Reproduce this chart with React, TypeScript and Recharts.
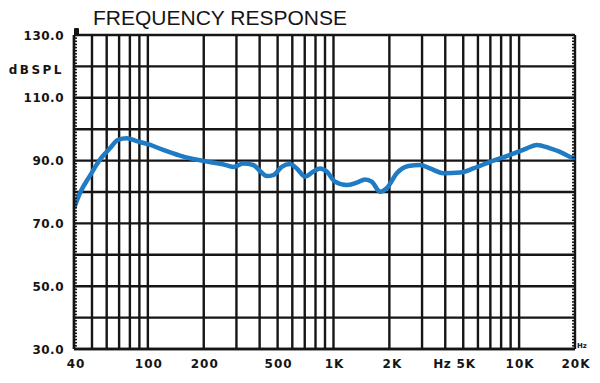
import React from "react";
import { LineChart, Line, XAxis, YAxis, CartesianGrid, ReferenceLine } from "recharts";

const freqs = [40, 43, 49, 55, 62.5, 69, 77, 87, 103, 121, 149, 199, 255, 289, 327, 370, 400, 437, 474, 526, 583, 634, 703, 779, 846, 920, 1019, 1178, 1334, 1479, 1607, 1782, 1936, 2193, 2530, 2926, 3311, 3908, 4808, 5666, 6970, 8930, 10990, 12450, 14690, 16600, 18800, 20000];
const spl = [74.8, 79.6, 85.4, 90.2, 93.9, 96.6, 97.1, 96.2, 95, 93.4, 91.6, 89.9, 88.8, 88, 89.1, 88.6, 86.8, 85.1, 85.4, 88, 88.9, 87.5, 84.9, 86.5, 87.5, 86.5, 83.3, 82.2, 83, 84, 83.3, 80.1, 81.2, 86, 88.3, 88.6, 87.5, 86, 86.2, 87.5, 89.6, 91.8, 93.9, 95, 93.9, 92.8, 91.2, 90.8];

const xGridTicks = [40, 50, 60, 70, 80, 90, 100, 200, 300, 400, 500, 600, 700, 800, 900, 1000, 2000, 3000, 4000, 5000, 6000, 7000, 8000, 9000, 10000, 20000];
const xLabels: Record<number, string> = { 40: "40", 100: "100", 200: "200", 500: "500", 1000: "1K", 2000: "2K", 5000: "5K", 10000: "10K", 20000: "20K" };
const yMajor = [30, 40, 50, 60, 70, 80, 90, 100, 110, 120, 130];
const yLabels: Record<number, string> = { 30: "30.0", 50: "50.0", 70: "70.0", 90: "90.0", 110: "110.0", 120: "dBSPL", 130: "130.0" };
const yMinor = Array.from({ length: 101 }, (_, i) => 30 + i);

const title = "FREQUENCY RESPONSE";

const data = freqs.map((f, i) => ({ f, v: spl[i] }));

const W = 600;
const H = 383;
const M = { top: 35, right: 25, bottom: 0, left: 0 };
const X_H = 34;
const Y_W = 74;
const PLOT_RIGHT = W - M.right;
const INK = "#161414";
const GRID_W = 2.4;

const YTick = (props: any) => {
  const { x, y, payload } = props;
  const v = payload.value;
  const lbl = yLabels[v];
  return (
    <g>
      <line x1={x} x2={x + 3} y1={y} y2={y} stroke={INK} strokeWidth={1.5} />
      <line x1={PLOT_RIGHT - 3} x2={PLOT_RIGHT} y1={y} y2={y} stroke={INK} strokeWidth={1.5} />
      {v === 130 && <rect x={x} y={y - 7} width={5} height={7} rx={1} fill={INK} />}
      {lbl && (
        <text
          x={x - 10}
          y={y + (v === 120 ? 8 : 4.5)}
          textAnchor="end"
          fill={INK}
          fontFamily="DejaVu Sans"
          fontWeight="bold"
          fontSize={12}
          letterSpacing={v === 120 ? 2.5 : 0.5}
        >
          {lbl}
        </text>
      )}
    </g>
  );
};

const XTick = (props: any) => {
  const { x, y, payload } = props;
  const v = payload.value;
  const lbl = xLabels[v];
  if (!lbl) return <g />;
  return (
    <g>
      <text
        x={x + (v === 40 ? 2 : v === 2000 || v === 5000 ? 3 : 1)}
        y={y + 19}
        textAnchor="middle"
        fill={INK}
        fontFamily="DejaVu Sans"
        fontWeight="bold"
        fontSize={12}
        letterSpacing={1}
      >
        {lbl}
      </text>
      {v === 5000 && (
        <text x={x - 12} y={y + 19} textAnchor="end" fill={INK} fontFamily="DejaVu Sans" fontWeight="bold" fontSize={12} letterSpacing={0.5}>
          Hz
        </text>
      )}
      {v === 20000 && (
        <text x={x + 2} y={y - 1} fill={INK} fontFamily="DejaVu Sans" fontWeight="bold" fontSize={7}>
          Hz
        </text>
      )}
    </g>
  );
};

export default function App() {
  return (
    <div style={{ position: "absolute", left: 0, top: 0, width: W, height: H, background: "#fff" }}>
      <div
        style={{
          position: "absolute",
          left: 93,
          top: 7,
          fontFamily: "'Liberation Sans', Arial, sans-serif",
          fontSize: 21,
          lineHeight: "21px",
          color: INK,
          whiteSpace: "nowrap",
        }}
      >
        {title}
      </div>
      <LineChart width={W} height={H} data={data} margin={M}>
        <CartesianGrid horizontal={false} vertical={true} stroke={INK} strokeWidth={GRID_W} strokeOpacity={1} />
        {yMajor.map((v) => (
          <ReferenceLine key={v} y={v} stroke={INK} strokeWidth={GRID_W} strokeOpacity={1} ifOverflow="visible" />
        ))}
        <XAxis
          dataKey="f"
          type="number"
          scale="log"
          domain={[40, 20000]}
          ticks={xGridTicks}
          interval={0}
          allowDataOverflow
          tickLine={false}
          tickSize={0}
          tickMargin={0}
          axisLine={{ stroke: INK, strokeWidth: GRID_W }}
          height={X_H}
          tick={<XTick />}
        />
        <YAxis
          type="number"
          domain={[30, 130]}
          ticks={yMinor}
          interval={0}
          allowDataOverflow
          tickLine={false}
          tickSize={0}
          tickMargin={0}
          width={Y_W}
          axisLine={{ stroke: INK, strokeWidth: GRID_W }}
          tick={<YTick />}
        />
        <Line
          type="monotone"
          dataKey="v"
          stroke="#1f7bc4"
          strokeWidth={4.5}
          dot={false}
          isAnimationActive={false}
        />
      </LineChart>
    </div>
  );
}
